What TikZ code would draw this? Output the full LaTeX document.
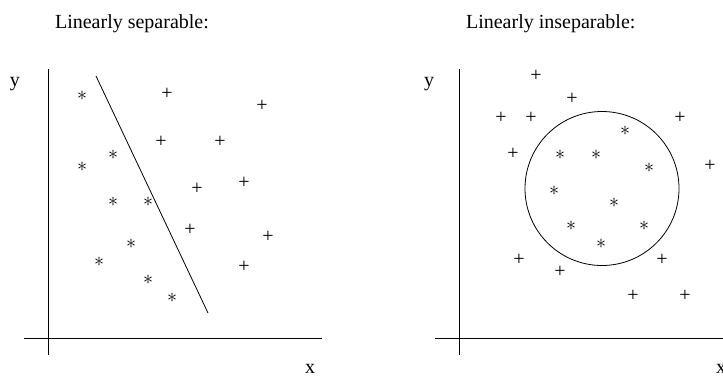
\documentclass[tikz,border=0pt]{standalone}
\usepackage{fontspec}
\setmainfont{Liberation Serif}
\begin{document}
\begin{tikzpicture}[x=0.5pt,y=-0.5pt,
  lbl/.style={font=\fontsize{10}{12}\selectfont},
  pt/.style={inner sep=0pt,outer sep=0pt},
  star/.style={pt},
  cross/.style={pt,font=\fontsize{10}{12}\selectfont}]
\useasboundingbox (0,0) rectangle (723,375);
% left: linearly separable
\node[lbl,anchor=base west] (ttl) at (48,28) {Linearly separable:};
\coordinate (ly0) at (48,69);
\coordinate (ly1) at (48,355);
\coordinate (lx0) at (24,338);
\coordinate (lx1) at (322,338);
\draw (ly0) -- (ly1);
\draw (lx0) -- (lx1);
\node[lbl,anchor=base] (ly) at (15,86) {y};
\node[lbl,anchor=base] (lx) at (310,373) {x};
\foreach \x/\y [count=\i] in {82/96, 113/155, 82/167, 113/202, 148/202, 131/244, 99/262, 148/280, 172/298}
{
	\node[star] (ls\i) at (\x,\y) {$\ast$};
}
\foreach \x/\y [count=\i] in {167/94, 262/106, 161/142, 220/142, 197/189, 244/183, 190/230, 268/237, 244/267}
{
	\node[cross] (lp\i) at (\x,\y) {+};
}
\coordinate (cut0) at (96,76);
\coordinate (cut1) at (208,313);
\draw (cut0) -- (cut1);
% right: linearly inseparable
\node[lbl,anchor=base west] (ttr) at (459,28) {Linearly inseparable:};
\coordinate (ry0) at (459,69);
\coordinate (ry1) at (459,355);
\coordinate (rx0) at (435,338);
\coordinate (rx1) at (723,338);
\draw (ry0) -- (ry1);
\draw (rx0) -- (rx1);
\node[lbl,anchor=base] (ry) at (429,86) {y};
\node[lbl,anchor=base] (rx) at (721,373) {x};
\node[draw,circle,inner sep=0pt,minimum size=77pt] (ring) at (602,188.5) {};
\foreach \x/\y [count=\i] in {625/131, 560/155, 596/155, 649/168, 554/191, 614/203, 571/226, 644/226, 601/244}
{
	\node[star] (rs\i) at (\x,\y) {$\ast$};
}
\foreach \x/\y [count=\i] in {536/76, 572/99, 501/118, 531/118, 680/118, 513/154, 710/166, 519/260, 560/272, 662/260, 633/296, 685/296}
{
	\node[cross] (rp\i) at (\x,\y) {+};
}
\end{tikzpicture}
\end{document}
